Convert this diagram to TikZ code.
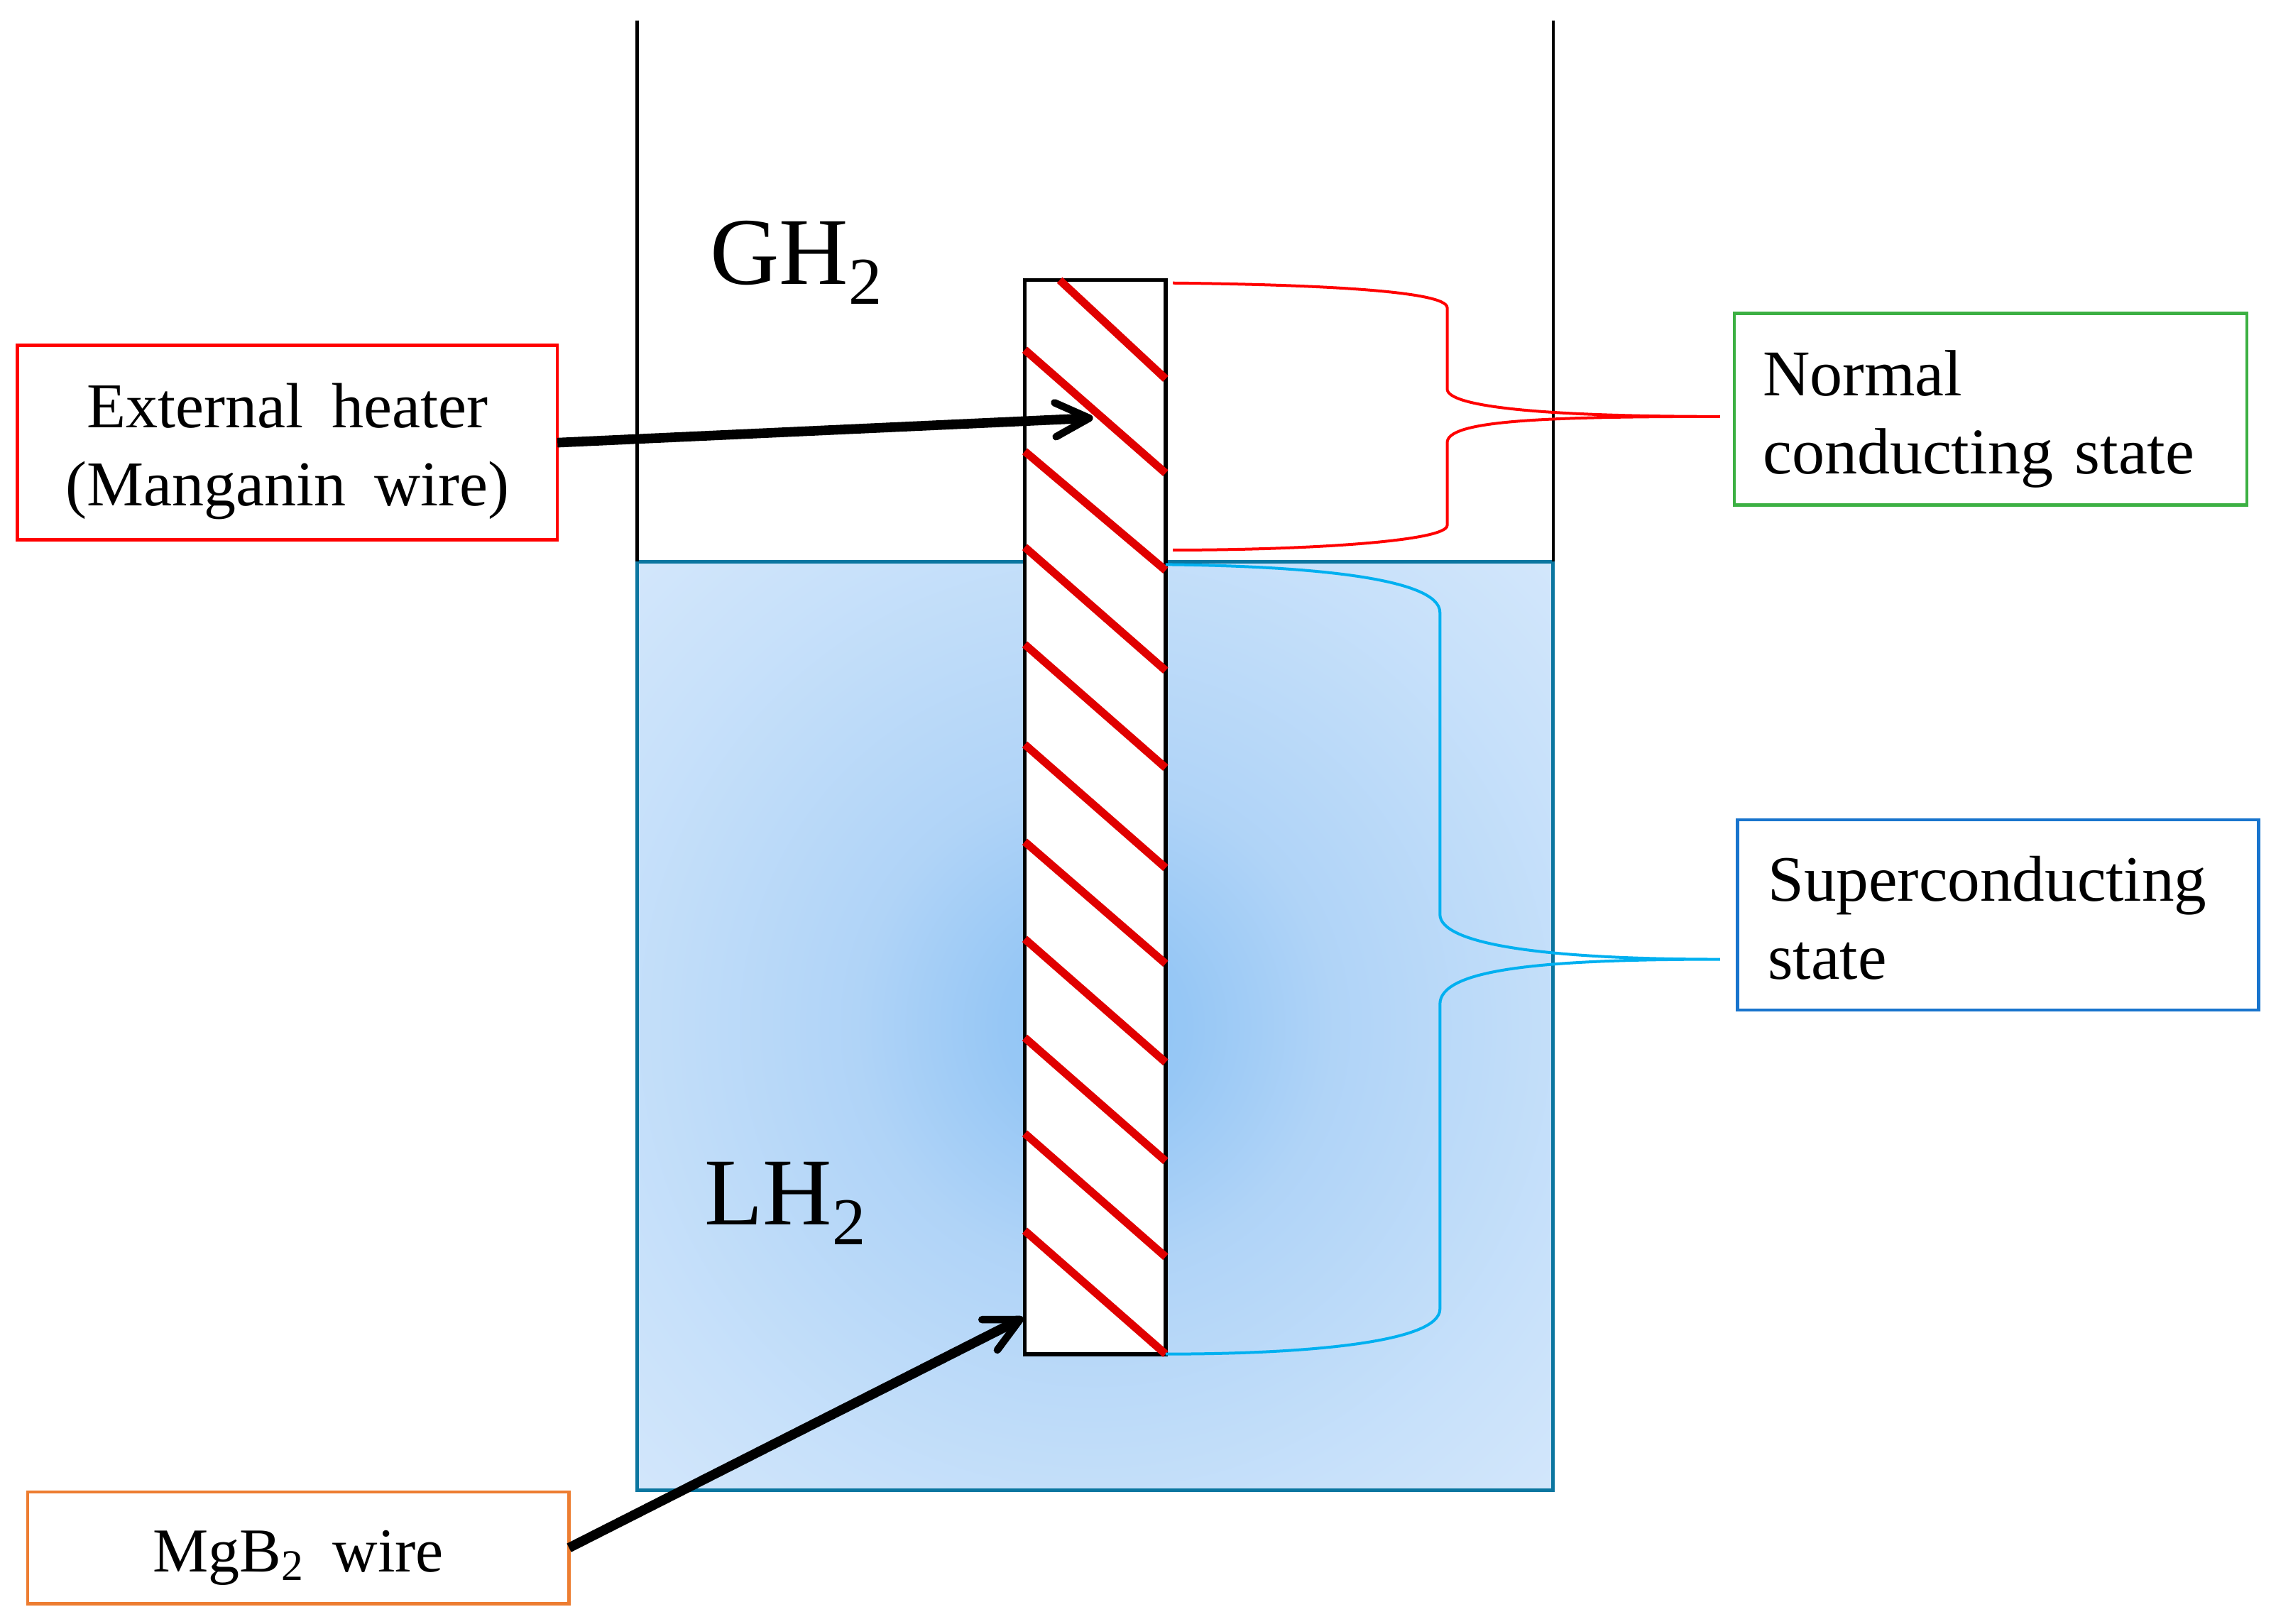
\documentclass[tikz,border=0pt]{standalone}
\usepackage{fontspec}
\setmainfont[WordSpace=1.8]{Liberation Serif}
\usetikzlibrary{arrows.meta}
\definecolor{wallblue}{HTML}{0B76A0}
\definecolor{hatchred}{HTML}{E00000}
\definecolor{skyline}{HTML}{00B0F0}
\definecolor{statebox}{HTML}{1874CD}
\definecolor{greenbox}{HTML}{3CB043}
\definecolor{orangebox}{HTML}{ED7D31}
\pgfdeclareradialshading{waterglow}{\pgfpoint{0bp}{0bp}}{%
  rgb(0bp)=(0.56,0.77,0.96);
  rgb(5bp)=(0.59,0.78,0.96);
  rgb(13bp)=(0.69,0.83,0.97);
  rgb(27bp)=(0.78,0.88,0.98);
  rgb(38bp)=(0.84,0.91,0.985);
  rgb(72bp)=(0.84,0.91,0.985)}
\newcommand{\lowered}[2]{\raisebox{-#1}[\height][\depth]{#2}}
\tikzset{
  wall/.style={draw=black,line width=1.1pt},
  labelbox/.style={draw,line width=1.1pt,fill=white,inner sep=0pt,outer sep=0pt},
  hatch/.style={draw=hatchred,line width=2.8pt},
  bracket/.style={line width=1pt},
  pointer/.style={draw=black,line width=3.4pt,-{Straight Barb[length=12pt,width=12pt,line width=2.6pt,round]}},
  big/.style={inner sep=0pt,anchor=base west,font=\fontsize{33.7}{40}\selectfont},
}
\begin{document}
\begin{tikzpicture}[x=0.5112pt,y=-0.5112pt]
\useasboundingbox (0,0) rectangle (1568,1119);
% liquid
\path[shading=waterglow] (439,387) rectangle (1070,1027);
\draw[draw=wallblue,line width=1.2pt] (439,387) rectangle (1070,1027);
\draw[wall] (439,14) -- (439,387);
\draw[wall] (1070,14) -- (1070,387);
% wire
\node[draw=black,line width=1.4pt,fill=white,inner sep=0pt,outer sep=0pt,minimum width=49.6pt,minimum height=378.3pt] (wire) at (754.5,563) {};
% boxes
\node[labelbox,draw=red,minimum width=190.2pt,minimum height=68.5pt,align=center,font=\fontsize{22.5}{27.5}\selectfont] (heater) at (198,305) {\lowered{3pt}{External heater}\\\lowered{3pt}{(Manganin wire)}};
\node[labelbox,draw=orangebox,minimum width=190.7pt,minimum height=39.4pt,align=center,font=\fontsize{22}{27.5}\selectfont] (mgb) at (205.5,1066.5) {\lowered{3.5pt}{MgB\textsubscript{2} wire}};
\node[labelbox,draw=greenbox,minimum width=180.5pt,minimum height=67.5pt,align=left,text width=160.5pt,font=\fontsize{23}{27.5}\selectfont] (normal) at (1371.5,282) {\lowered{3.5pt}{Normal}\\\lowered{3.5pt}{conducting state}};
\node[labelbox,draw=statebox,minimum width=183.5pt,minimum height=67pt,align=left,text width=162pt,font=\fontsize{22.8}{27.5}\selectfont] (super) at (1376.5,630.5) {\lowered{1pt}{Superconducting}\\\lowered{1pt}{state}};
% labels
\node[big] (gh) at (489,196) {GH\textsubscript{2}};
\node[big] (lh) at (485,844) {LH\textsubscript{2}};
% pointers
\coordinate (heattip) at (753,288);
\coordinate (wiretip) at (705,908);
\draw[pointer] (heater.east) -- (heattip);
\draw[pointer] (mgb.east) -- (wiretip);
% winding
\draw[hatch] (730,193) -- (803,261);
\foreach \a/\b in {241/326,311/393,377/462,444/529,513/598,580/664,647/732,715/800,781/866,848/933}
  \draw[hatch] (706,\a) -- (803,\b);
% braces
\coordinate (redtip) at (1185,287);
\coordinate (bluetip) at (1185,661);
\draw[bracket,draw=red] (808,195) .. controls (900,196) and (997,200) .. (997,212) -- (997,268)
  .. controls (997,280) and (1060,287) .. (redtip)
  .. controls (1060,287) and (997,290) .. (997,305) -- (997,362)
  .. controls (997,373) and (900,379) .. (808,379);
\draw[bracket,draw=skyline] (803,389) .. controls (900,390) and (992,398) .. (992,422) -- (992,630)
  .. controls (992,650) and (1060,661) .. (bluetip)
  .. controls (1060,661) and (992,668) .. (992,692) -- (992,902)
  .. controls (992,925) and (900,933) .. (803,933);
\end{tikzpicture}
\end{document}
